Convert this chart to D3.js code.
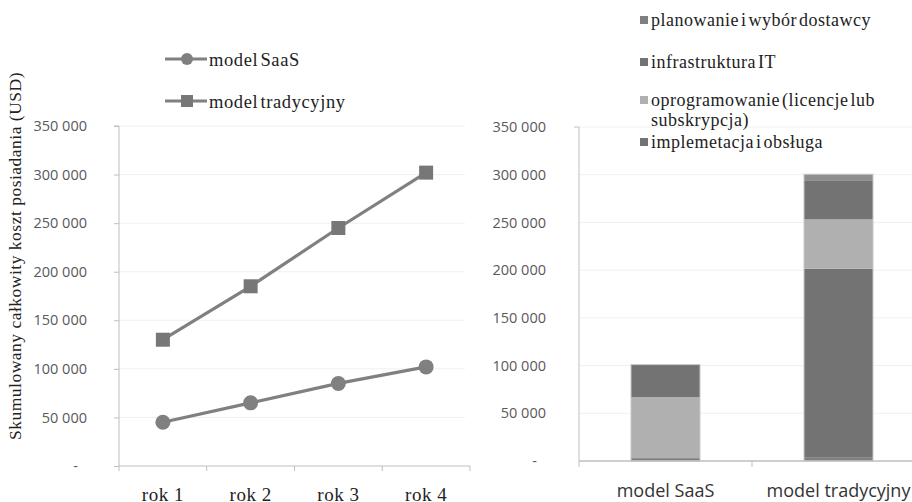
<!DOCTYPE html>
<html><head><meta charset="utf-8">
<script src="https://cdn.jsdelivr.net/npm/d3@7"></script>
<style>body{margin:0;background:#fff}svg{display:block}</style>
</head><body>
<svg id="c" width="912" height="502"></svg>
<script>
const years = ["rok 1", "rok 2", "rok 3", "rok 4"];
const saas = [45000, 65000, 85000, 102000];
const traditional = [130000, 185000, 245000, 302000];
const lineSeriesNames = ["model SaaS", "model tradycyjny"];
const yTicks = [0, 50000, 100000, 150000, 200000, 250000, 300000, 350000];

const models = ["model SaaS", "model tradycyjny"];
const stackNames = ["planowanie i wybór dostawcy", "infrastruktura IT", "oprogramowanie (licencje lub subskrypcja)", "implemetacja i obsługa", ""];
const planowanie = [3000, 4000];
const infrastruktura = [0, 197500];
const oprogramowanie = [64000, 51700];
const implementacja = [34000, 41000];
const inne = [0, 6300];
const stackColors = ["#7f7f7f", "#737373", "#b0b0b0", "#737373", "#8e8e8e"];

const svg = d3.select("#c");
const fmt = v => v === 0 ? "-" : d3.format(",")(v).replace(/,/g, " ");
const axisColor = "#bfbfbf", gridColor = "#f0f0f0", textColor = "#595959";
const serif = "'Liberation Serif', 'DejaVu Serif', serif";
const sans = "'Open Sans', 'Liberation Sans', sans-serif";

function styleYAxis(ax, top, bottom) {
  ax.select(".domain").attr("stroke", axisColor).attr("d", `M-5,${top}H0V${bottom}`);
  ax.selectAll("text").attr("fill", textColor).style("font-family", sans).style("font-size", "14.5px")
    .attr("dx", d => d === 0 ? -9 : 0);
}

// ---------- Left chart ----------
const L = {x0: 119, x1: 470, y0: 466, y1: 126};
const xL = d3.scaleBand().domain(years).range([L.x0, L.x1]);
const yL = d3.scaleLinear().domain([0, 350000]).range([L.y0, L.y1]);
const gL = svg.append("g");

gL.append("g").selectAll("line").data(yTicks.slice(1)).join("line")
  .attr("x1", L.x0).attr("x2", 465).attr("y1", d => yL(d)).attr("y2", d => yL(d))
  .attr("stroke", gridColor);

const yAxL = gL.append("g").attr("transform", `translate(${L.x0},0)`)
  .call(d3.axisLeft(yL).tickValues(yTicks).tickFormat(fmt).tickSize(5).tickPadding(27));
styleYAxis(yAxL, L.y1, L.y0);
yAxL.selectAll(".tick line").attr("stroke", axisColor);

const xAxL = gL.append("g").attr("transform", `translate(0,${L.y0})`);
xAxL.append("line").attr("x1", L.x0).attr("x2", L.x1).attr("stroke", axisColor);
xAxL.selectAll("line.t").data(years.concat(["end"])).join("line").attr("class", "t")
  .attr("x1", (d, i) => L.x0 + i * xL.bandwidth()).attr("x2", (d, i) => L.x0 + i * xL.bandwidth())
  .attr("y1", 0).attr("y2", 5).attr("stroke", axisColor);
xAxL.selectAll("text").data(years).join("text")
  .attr("x", d => xL(d) + xL.bandwidth() / 2).attr("y", 35)
  .attr("text-anchor", "middle").attr("fill", "#222")
  .style("font-family", serif).style("font-size", "19px").style("letter-spacing", "0.5px").text(d => d);

const lineGen = d3.line().x((d, i) => xL(years[i]) + xL.bandwidth() / 2).y(d => yL(d));
const lineColor = "#808080";
[saas, traditional].forEach((data, k) => {
  gL.append("path").datum(data).attr("d", lineGen).attr("fill", "none")
    .attr("stroke", lineColor).attr("stroke-width", 3.2);
  if (k === 0) {
    gL.selectAll(null).data(data).join("circle")
      .attr("cx", (d, i) => xL(years[i]) + xL.bandwidth() / 2).attr("cy", d => yL(d))
      .attr("r", 7.5).attr("fill", lineColor);
  } else {
    gL.selectAll(null).data(data).join("rect")
      .attr("x", (d, i) => xL(years[i]) + xL.bandwidth() / 2 - 7).attr("y", d => yL(d) - 7)
      .attr("width", 14).attr("height", 14).attr("fill", "#777");
  }
});

// left legend
const legL = svg.append("g");
lineSeriesNames.forEach((n, k) => {
  const y = 59 + k * 42;
  legL.append("line").attr("x1", 165).attr("x2", 207).attr("y1", y).attr("y2", y)
    .attr("stroke", lineColor).attr("stroke-width", 3.2);
  if (k === 0) legL.append("circle").attr("cx", 187).attr("cy", y).attr("r", 6).attr("fill", lineColor);
  else legL.append("rect").attr("x", 181).attr("y", y - 6).attr("width", 12).attr("height", 12).attr("fill", "#777");
  legL.append("text").attr("x", 209).attr("y", y + 7).attr("fill", "#222")
    .style("font-family", serif).style("font-size", "18.5px")
    .style("letter-spacing", "0.6px").style("word-spacing", "-3px").text(n);
});

// y title
svg.append("text").attr("transform", "translate(21,256) rotate(-90)")
  .attr("text-anchor", "middle").attr("fill", "#222")
  .style("font-family", serif).style("font-size", "17.5px").style("letter-spacing", "0.5px")
  .text("Skumulowany całkowity koszt posiadania (USD)");

// ---------- Right chart ----------
const R = {x0: 579, x1: 925, y0: 461, y1: 127};
const xR = d3.scaleBand().domain(models).range([R.x0, R.x1]).paddingInner(0).paddingOuter(0);
const yR = d3.scaleLinear().domain([0, 350000]).range([R.y0, R.y1]);
const gR = svg.append("g");

gR.append("g").selectAll("line").data(yTicks.slice(1)).join("line")
  .attr("x1", R.x0).attr("x2", 912).attr("y1", d => yR(d)).attr("y2", d => yR(d))
  .attr("stroke", gridColor);

const yAxR = gR.append("g").attr("transform", `translate(${R.x0},0)`)
  .call(d3.axisLeft(yR).tickValues(yTicks).tickFormat(fmt).tickSize(5).tickPadding(28));
styleYAxis(yAxR, R.y1, R.y0);
yAxR.selectAll(".tick line").attr("stroke", "none");

const stackData = models.map((m, i) => ({
  model: m, s0: planowanie[i], s1: infrastruktura[i], s2: oprogramowanie[i], s3: implementacja[i], s4: inne[i]
}));
const keys = ["s0", "s1", "s2", "s3", "s4"];
const series = d3.stack().keys(keys)(stackData);
const bw = 69;
series.forEach((s, k) => {
  gR.selectAll(null).data(s).join("rect")
    .attr("x", d => xR(d.data.model) + xR.bandwidth() / 2 - bw / 2)
    .attr("y", d => yR(d[1]))
    .attr("width", bw)
    .attr("height", d => yR(d[0]) - yR(d[1]))
    .attr("fill", stackColors[k]);
});
gR.selectAll(null).data(series[series.length - 1]).join("rect")
  .attr("x", d => xR(d.data.model) + xR.bandwidth() / 2 - bw / 2)
  .attr("y", d => yR(d[1]))
  .attr("width", bw)
  .attr("height", d => yR(0) - yR(d[1]))
  .attr("fill", "none").attr("stroke", "#c8c8c8").attr("stroke-width", 1);

const xAxR = gR.append("g").attr("transform", `translate(0,${R.y0})`);
xAxR.append("line").attr("x1", R.x0).attr("x2", 912).attr("stroke", axisColor).attr("stroke-width", 1.5);
xAxR.selectAll("line.t").data([0, 1, 2]).join("line").attr("class", "t")
  .attr("x1", d => R.x0 + d * xR.bandwidth()).attr("x2", d => R.x0 + d * xR.bandwidth())
  .attr("y1", 0).attr("y2", 6).attr("stroke", axisColor);
xAxR.selectAll("text").data(models).join("text")
  .attr("x", d => xR(d) + xR.bandwidth() / 2).attr("y", 36)
  .attr("text-anchor", "middle").attr("fill", "#333")
  .style("font-family", sans).style("font-size", "18px").text(d => d);

// right legend
const legR = svg.append("g");
const legendRows = [
  {k: 0, y: 20, lines: [stackNames[0]]},
  {k: 1, y: 62, lines: [stackNames[1]]},
  {k: 2, y: 100, lines: ["oprogramowanie (licencje lub", "subskrypcja)"]},
  {k: 3, y: 142, lines: [stackNames[3]]}
];
legendRows.forEach(r => {
  legR.append("rect").attr("x", 640).attr("y", r.y - 4).attr("width", 8).attr("height", 8)
    .attr("fill", stackColors[r.k]);
  const t = legR.append("text").attr("x", 651).attr("y", r.y + 6).attr("fill", "#222")
    .style("font-family", serif).style("font-size", "18px")
    .style("letter-spacing", "0.5px").style("word-spacing", "-3px");
  r.lines.forEach((ln, j) => t.append("tspan").attr("x", 651).attr("dy", j ? 20 : 0).text(ln));
});
</script>
</body></html>
